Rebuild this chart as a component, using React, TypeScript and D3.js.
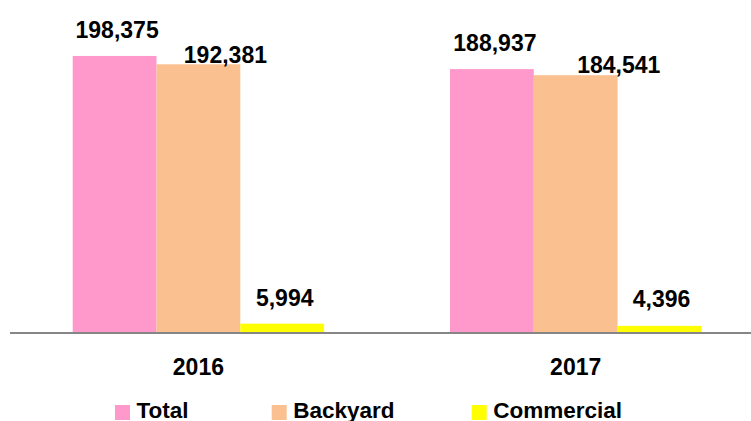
import React from "react";
import * as d3 from "d3";

const years = ["2016", "2017"];
const seriesNames = ["Total", "Backyard", "Commercial"];
const totalValues = [198375, 188937];
const backyardValues = [192381, 184541];
const commercialValues = [5994, 4396];
const seriesColors = ["#FF99CC", "#FAC090", "#FFFF00"];

// label nudges (dx, gap above bar top) per series per year
const labelDx = [[2.5, 3], [27, 43], [2.5, 2]];
const labelGap = [[18, 18], [1.5, 2], [17.5, 18.5]];

const W = 751;
const H = 421;
const FONT = "'Liberation Sans', Arial, sans-serif";

export default function App() {
  const values = [totalValues, backyardValues, commercialValues];
  const baseY = 332;
  const x0 = d3
    .scaleBand<string>()
    .domain(years)
    .range([9.75, 9.75 + 377.3 * 2])
    .paddingInner(0.3337)
    .paddingOuter(0.3337 / 2);
  const x1 = d3
    .scaleBand<string>()
    .domain(seriesNames)
    .range([0, x0.bandwidth()])
    .padding(0);
  const y = d3.scaleLinear().domain([0, 200000]).range([baseY, 53.7]);
  const fmt = d3.format(",");

  const legendX = [115, 271.7, 471.7];

  return (
    <svg
      width={W}
      height={H}
      style={{ position: "absolute", left: 0, top: 0, background: "#fff" }}
      fontFamily={FONT}
      fontWeight="bold"
    >
      <rect x={0} y={0} width={W} height={H} fill="#fff" />
      {years.map((yr, yi) => (
        <g key={yr} transform={`translate(${x0(yr)},0)`}>
          {seriesNames.map((s, si) => {
            const v = values[si][yi];
            const bx = x1(s)!;
            return (
              <rect
                key={s}
                x={bx}
                y={y(v)}
                width={x1.bandwidth()}
                height={baseY - y(v)}
                fill={seriesColors[si]}
              />
            );
          })}
        </g>
      ))}
      <line x1={10} x2={W} y1={333} y2={333} stroke="#868686" strokeWidth={2} />
      {years.map((yr, yi) =>
        seriesNames.map((s, si) => {
          const v = values[si][yi];
          const cx = x0(yr)! + x1(s)! + x1.bandwidth() / 2 + labelDx[si][yi];
          return (
            <text
              key={`${yr}-${s}`}
              x={cx}
              y={y(v) - labelGap[si][yi]}
              textAnchor="middle"
              fontSize={23}
              fill="#000"
            >
              {fmt(v)}
            </text>
          );
        })
      )}
      {years.map((yr) => (
        <text
          key={yr}
          x={x0(yr)! + x0.bandwidth() / 2}
          y={375}
          textAnchor="middle"
          fontSize={23}
          fill="#000"
        >
          {yr}
        </text>
      ))}
      {seriesNames.map((s, si) => (
        <g key={s}>
          <rect x={legendX[si]} y={405} width={15} height={15} fill={seriesColors[si]} />
          <text x={legendX[si] + 21.5} y={418} fontSize={22.5} fill="#000">
            {s}
          </text>
        </g>
      ))}
    </svg>
  );
}
